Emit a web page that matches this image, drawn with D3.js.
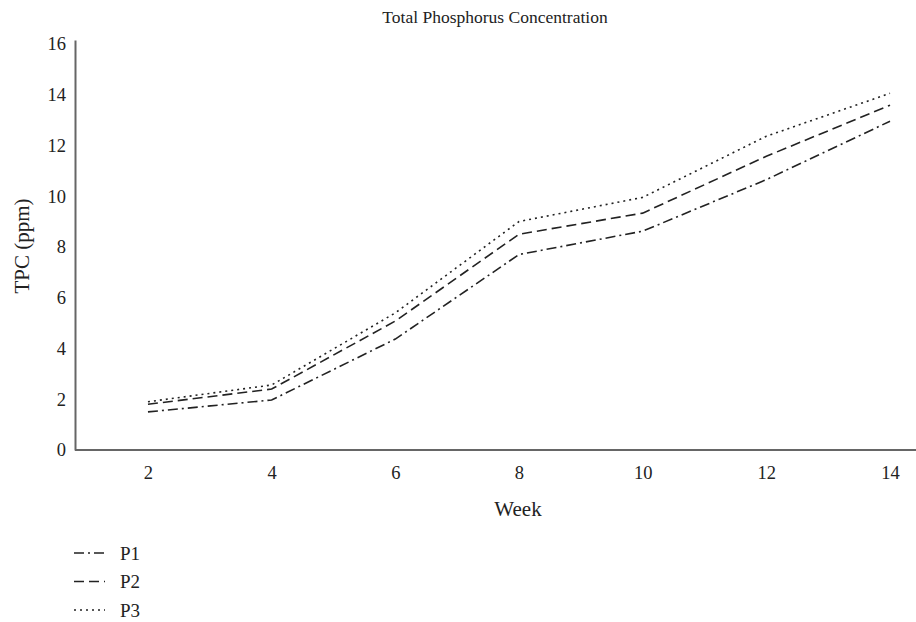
<!DOCTYPE html>
<html>
<head>
<meta charset="utf-8">
<script src="https://cdn.jsdelivr.net/npm/d3@7"></script>
<style>
  body { margin: 0; background: #fff; }
  svg { display: block; font-family: "Liberation Serif", "DejaVu Serif", serif; }
  .axis path { stroke: #666; stroke-width: 2px; }
  .axis text { font-size: 18.5px; fill: #222; font-family: "Liberation Serif", serif; }
</style>
</head>
<body>
<div id="chart"></div>
<script>
// weeks and total phosphorus values
var weeks = [2, 4, 6, 8, 10, 12, 14];
var p1 = [1.5, 1.97, 4.37, 7.7, 8.62, 10.65, 12.95];
var p2 = [1.8, 2.4, 5.08, 8.5, 9.33, 11.57, 13.58];
var p3 = [1.9, 2.56, 5.4, 9.0, 9.95, 12.36, 14.05];
var seriesNames = ["P1", "P2", "P3"];
var yTicks = [0, 2, 4, 6, 8, 10, 12, 14, 16];

var width = 916, height = 622;
var dashes = {"P1": "10,4,2,4", "P2": "10,5", "P3": "2,4"};

var svg = d3.select("#chart").append("svg")
    .attr("width", width)
    .attr("height", height);

var x = d3.scaleLinear().domain([0.82, 14.42]).range([75, 916]);
var y = d3.scaleLinear().domain([0, 16.15]).range([450, 40]);

var xAxis = svg.append("g").attr("class", "axis")
    .attr("transform", "translate(0," + y(0) + ")")
    .call(d3.axisBottom(x).tickValues(weeks).tickSize(0).tickPadding(16));
xAxis.select(".domain").attr("d", "M" + x.range()[0] + ",0H" + x.range()[1]);

var yAxis = svg.append("g").attr("class", "axis")
    .attr("transform", "translate(" + x.range()[0] + ",0)")
    .call(d3.axisLeft(y).tickValues(yTicks).tickSize(0).tickPadding(9));

// titles
svg.append("text")
    .attr("x", 495).attr("y", 23)
    .attr("text-anchor", "middle")
    .style("font-size", "17.5px").style("fill", "#222")
    .text("Total Phosphorus Concentration");

svg.append("text")
    .attr("x", 518).attr("y", 516)
    .attr("text-anchor", "middle")
    .style("font-size", "21px").style("fill", "#222")
    .text("Week");

svg.append("text")
    .attr("transform", "translate(29," + 246 + ") rotate(-90)")
    .attr("text-anchor", "middle")
    .style("font-size", "21px").style("fill", "#222")
    .text("TPC (ppm)");

var series = [
  {name: "P1", values: p1},
  {name: "P2", values: p2},
  {name: "P3", values: p3}
];

var line = d3.line()
    .x(function(d, i) { return x(weeks[i]); })
    .y(function(d) { return y(d); });

svg.append("g").selectAll("path")
    .data(series)
    .enter()
    .append("path")
    .attr("d", function(d) { return line(d.values); })
    .attr("fill", "none")
    .attr("stroke", "#222")
    .attr("stroke-width", 1.6)
    .attr("stroke-dasharray", function(d) { return dashes[d.name]; });

// legend
var legend = svg.append("g").selectAll("g")
    .data(seriesNames)
    .enter()
    .append("g")
    .attr("transform", function(d, i) { return "translate(74," + (553 + i * 28.5) + ")"; });

legend.append("line")
    .attr("x1", 0).attr("x2", 31)
    .attr("stroke", "#222")
    .attr("stroke-width", 1.4)
    .attr("stroke-dasharray", function(d) { return dashes[d]; });

legend.append("text")
    .attr("x", 46).attr("y", 6.5)
    .style("font-size", "19px").style("fill", "#222")
    .text(function(d) { return d; });
</script>
</body>
</html>
